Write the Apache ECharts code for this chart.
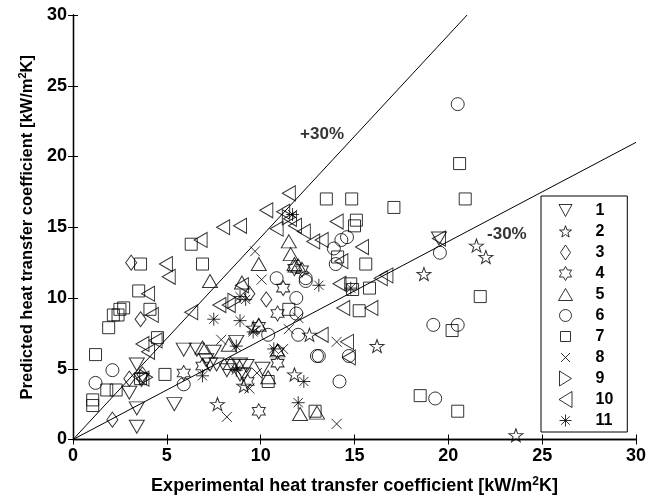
<!DOCTYPE html>
<html>
<head>
<meta charset="utf-8">
<script src="https://cdn.jsdelivr.net/npm/echarts@6/dist/echarts.min.js"></script>
<style>
  html, body { margin: 0; padding: 0; background: #fff; }
  #chart { width: 659px; height: 500px; }
</style>
</head>
<body>
<div id="chart"></div>
<script>
// Predicted vs. experimental heat transfer coefficient, kW/m^2K
const s1 = [[3.4,5.3],[3.65,4.2],[3.4,2.2],[3.4,0.9],[5.4,2.5],[5.9,6.35],[6.6,6.35],[7.5,6.2],[8.7,6.9],[7.3,5.3],[7.1,5.6],[7.65,5.3],[8.2,4.9],[8.9,4.6],[9.25,5.2],[8.9,5.3],[9.1,4.6],[8.5,5.2],[19.5,14.2],[3.0,3.3],[10.1,5.0]];
const s2 = [[18.7,11.7],[21.5,13.7],[22.0,12.9],[23.6,0.3],[7.7,2.5],[16.2,6.6],[9.6,7.9],[11.8,4.6],[9.1,3.8],[12.6,7.4]];
const s3 = [[3.1,12.5],[3.6,8.5],[2.1,1.4],[10.3,9.9],[3.0,4.3],[3.7,4.6],[9.4,10.3]];
const s4 = [[5.9,4.7],[6.9,5.2],[9.9,2.0],[11.2,10.7],[10.9,8.9],[10.9,5.4],[9.9,8.0],[11.8,12.1],[9.3,4.1],[12.2,12.0],[10.9,6.2]];
const s5 = [[7.3,11.2],[9.9,12.4],[11.5,14.0],[11.6,13.1],[12.1,1.8],[13.0,1.9],[10.4,4.4],[10.9,6.3],[8.3,6.7],[6.9,6.5],[9.9,8.1],[9.0,11.1],[11.8,12.4],[8.4,5.4],[12.0,12.3]];
const s6 = [[2.1,4.9],[1.2,4.0],[5.9,3.9],[10.85,11.4],[12.4,11.4],[11.9,10.0],[11.9,8.9],[10.4,7.4],[12.0,7.4],[13.0,5.9],[13.1,5.9],[14.7,5.9],[14.2,4.1],[14.6,14.3],[13.9,13.5],[14.0,12.4],[19.55,13.2],[19.2,8.1],[20.5,8.1],[19.3,2.9],[20.5,23.7],[12.4,11.2],[14.3,14.1]];
const s7 = [[3.6,12.4],[6.3,13.8],[6.9,12.4],[3.5,10.5],[2.5,9.2],[2.15,8.8],[2.4,8.8],[1.9,7.9],[4.1,9.2],[1.2,6.0],[4.5,7.2],[1.05,2.8],[1.05,2.4],[1.8,3.5],[2.3,3.5],[13.5,17.0],[14.85,17.0],[17.1,16.4],[15.0,15.1],[15.1,15.5],[15.6,12.4],[14.1,12.9],[14.8,11.0],[14.9,10.6],[15.8,10.7],[11.5,9.2],[15.25,9.1],[20.9,17.0],[21.7,10.1],[20.2,7.7],[18.5,3.1],[20.5,2.0],[12.9,2.0],[10.4,4.1],[4.9,4.6],[3.6,4.3],[20.6,19.5],[2.7,9.3]];
const s8 = [[10.05,11.3],[14.05,6.9],[14.05,1.1],[8.2,1.6],[9.4,3.6],[11.2,6.4],[9.7,13.3],[7.9,7.05],[12.0,8.6],[11.5,7.8],[9.8,4.7]];
const s9 = [[3.9,4.4],[11.5,15.7],[8.6,9.8]];
const s10 = [[4.95,12.4],[5.1,11.5],[6.8,14.1],[8.0,15.0],[8.9,15.1],[4.0,10.3],[4.2,8.8],[6.3,9.0],[7.8,9.5],[8.3,9.5],[9.0,10.9],[3.7,6.75],[4.0,6.2],[10.3,16.2],[11.2,16.1],[11.5,17.4],[11.56,15.6],[11.83,15.1],[10.85,14.9],[12.3,14.7],[12.8,14.0],[13.25,14.1],[14.05,15.4],[15.4,13.6],[16.4,11.4],[16.7,11.6],[14.2,11.0],[14.4,9.3],[15.9,9.3],[13.25,7.4],[14.6,6.9],[14.7,5.8],[19.5,14.2],[3.7,4.3],[14.3,12.6],[4.4,7.0]];
const s11 = [[8.9,10.1],[9.2,9.9],[7.5,8.5],[8.9,8.4],[14.8,10.7],[13.1,10.9],[10.7,6.4],[12.3,4.1],[12.0,2.6],[6.9,4.5],[8.7,4.9],[8.7,6.6],[9.6,7.6],[11.7,15.9]];

const seriesNames = ['1','2','3','4','5','6','7','8','9','10','11'];
const seriesData = [s1,s2,s3,s4,s5,s6,s7,s8,s9,s10,s11];

// +/-30% deviation bands: y = x/0.7 and y = 0.7x
const upperBand = [[0,0],[21,30]];
const lowerBand = [[0,0],[30,21]];
const bandLabels = [{ value: [13.27, 21.57], text: '+30%' }, { value: [23.12, 14.48], text: '-30%' }];

const ticks = [0,5,10,15,20,25,30];

const FONT = '"Liberation Sans", Arial, Helvetica, sans-serif';

// Plot markers (outline only)
const markers = [
  { symbol: 'path://M0,0L20,0L10,17Z', size: [15,13] },
  { symbol: 'path://M10,0L12.35,6.76L19.51,6.91L13.8,11.24L15.88,18.09L10,14L4.12,18.09L6.2,11.24L0.49,6.91L7.65,6.76Z', size: [14,13] },
  { symbol: 'path://M5,0L10,7L5,14L0,7Z', size: [11,15] },
  { symbol: 'path://M10,0L12.89,5L18.66,5L15.77,10L18.66,15L12.89,15L10,20L7.11,15L1.34,15L4.23,10L1.34,5L7.11,5Z', size: [13,15] },
  { symbol: 'path://M10,0L20,17L0,17Z', size: [15,13] },
  { symbol: 'circle', size: 13 },
  { symbol: 'rect', size: 12 },
  { symbol: 'path://M0,0L10,10M10,0L0,10', size: 10 },
  { symbol: 'path://M0,0L17,10L0,20Z', size: [13,15] },
  { symbol: 'path://M17,0L0,10L17,20Z', size: [13,15] },
  { symbol: 'path://M5,0L5,10M0,5L10,5M1.46,1.46L8.54,8.54M8.54,1.46L1.46,8.54', size: 13 }
];

// Legend icons, laid out inside a 16x16 box so each keeps its own size
const PAD = 'M0,0M16,16';
const legendIcons = [
  'path://' + PAD + 'M1.5,2L14.5,2L8,14Z',
  'path://' + PAD + 'M8,2.2L9.47,6.48L13.99,6.55L10.38,9.27L11.7,13.6L8,11L4.3,13.6L5.62,9.27L2.01,6.55L6.53,6.48Z',
  'path://' + PAD + 'M8,0.5L13,8L8,15.5L3,8Z',
  'path://' + PAD + 'M8,1L10.02,4.5L14.06,4.5L12.04,8L14.06,11.5L10.02,11.5L8,15L5.98,11.5L1.94,11.5L3.96,8L1.94,4.5L5.98,4.5Z',
  'path://' + PAD + 'M8,2L15,14L1,14Z',
  'path://' + PAD + 'M14,8A6,6 0 1 1 2,8A6,6 0 1 1 14,8Z',
  'path://' + PAD + 'M3,3L13,3L13,13L3,13Z',
  'path://' + PAD + 'M3.5,3.5L12.5,12.5M12.5,3.5L3.5,12.5',
  'path://' + PAD + 'M2,0.5L14,8L2,15.5Z',
  'path://' + PAD + 'M14.5,0L1.5,8L14.5,16Z',
  'path://' + PAD + 'M8,2L8,14M2,8L14,8M3.76,3.76L12.24,12.24M12.24,3.76L3.76,12.24'
];

const scatterSeries = seriesNames.map((name, i) => ({
  name: name,
  type: 'scatter',
  data: seriesData[i],
  symbol: markers[i].symbol,
  symbolSize: markers[i].size,
  itemStyle: { color: 'rgba(0,0,0,0)', borderColor: '#000', borderWidth: 1 },
  emphasis: { disabled: true },
  z: 3
}));

const chart = echarts.init(document.getElementById('chart'), null, { renderer: 'canvas' });

const axisCommon = {
  type: 'value', min: 0, max: 30, interval: 5,
  axisLine: { show: true, lineStyle: { color: '#000', width: 1.3 } },
  axisTick: { show: true, inside: true, length: 5, lineStyle: { color: '#000', width: 1 } },
  splitLine: { show: false }
};

const titleStyle = (size) => ({
  color: '#000', fontSize: size, fontWeight: 'bold', fontFamily: FONT,
  rich: { sup: { fontSize: Math.round(size * 0.65), fontWeight: 'bold', fontFamily: FONT, color: '#000', verticalAlign: 'top', padding: [0, 0, 9, 0] } }
});

chart.setOption({
  animation: false,
  backgroundColor: '#fff',
  grid: { left: 73, top: 15, right: 23, bottom: 58, containLabel: false },
  xAxis: [
    Object.assign({}, axisCommon, {
      position: 'bottom',
      axisLabel: { show: true, margin: 8, color: '#000', fontSize: 18, fontWeight: 'bold', fontFamily: FONT,
        formatter: v => ticks.includes(v) ? String(v) : '' },
      name: 'Experimental heat transfer coefficient [kW/m{sup|2}K]',
      nameLocation: 'middle', nameGap: 36,
      nameTextStyle: titleStyle(18)
    }),
    Object.assign({}, axisCommon, { position: 'top', axisLabel: { show: false } })
  ],
  yAxis: [
    Object.assign({}, axisCommon, {
      position: 'left',
      axisLabel: { show: true, margin: 6, color: '#000', fontSize: 18, fontWeight: 'bold', fontFamily: FONT },
      name: 'Predicted heat transfer coefficient [kW/m{sup|2}K]',
      nameLocation: 'middle', nameGap: 36,
      nameTextStyle: titleStyle(16.5)
    }),
    Object.assign({}, axisCommon, { position: 'right', axisLabel: { show: false } })
  ],
  legend: {
    show: true,
    orient: 'vertical',
    left: 541, top: 196,
    padding: [6, 14, 3, 16],
    itemGap: 4,
    itemWidth: 16, itemHeight: 16,
    borderColor: '#000', borderWidth: 1,
    backgroundColor: '#fff',
    data: seriesNames.map((n, i) => ({ name: n, icon: legendIcons[i] })),
    selectedMode: false,
    itemStyle: { color: 'rgba(0,0,0,0)', borderColor: '#000', borderWidth: 1 },
    textStyle: { color: '#000', fontSize: 16, fontWeight: 'bold', fontFamily: FONT, padding: [0, 0, 0, 17] }
  },
  series: [
    { type: 'line', data: upperBand, symbol: 'none', lineStyle: { color: '#000', width: 1 }, silent: true, z: 2 },
    { type: 'line', data: lowerBand, symbol: 'none', lineStyle: { color: '#000', width: 1 }, silent: true, z: 2 },
    {
      type: 'scatter', data: bandLabels.map(d => ({ value: d.value, name: d.text })),
      symbolSize: 0, silent: true, z: 4,
      label: { show: true, position: 'inside', formatter: p => p.name, color: '#000', fontSize: 17, fontWeight: 'bold', fontFamily: FONT }
    }
  ].concat(scatterSeries)
});
</script>
</body>
</html>
